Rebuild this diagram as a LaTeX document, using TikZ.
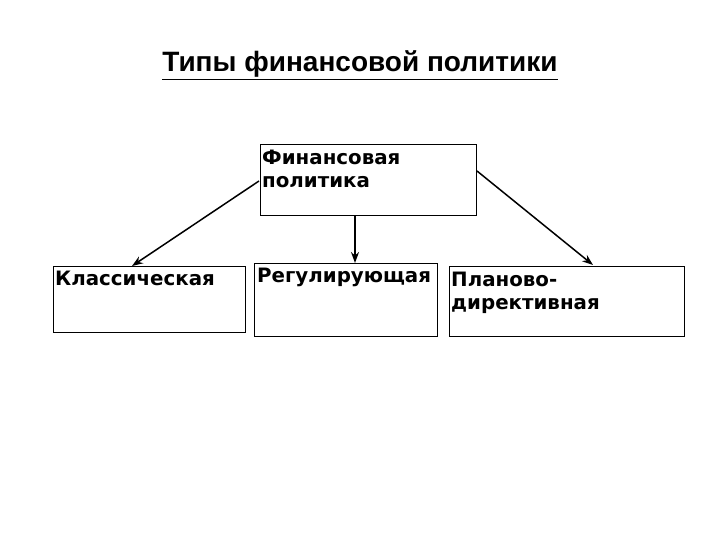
\documentclass[tikz,border=0pt]{standalone}
\usepackage{fontspec}
\setmainfont{Liberation Sans}
\newfontfamily\boxfont{DejaVu Sans}
\usetikzlibrary{arrows.meta}
\begin{document}
\begin{tikzpicture}[x=1pt,y=-1pt,
  box/.style={draw=black,line width=1pt,inner sep=0pt,anchor=north west},
  boxtext/.style={inner sep=0pt,anchor=base west,align=left,
    font=\boxfont\bfseries\fontsize{19.8}{23}\selectfont},
  conn/.style={line width=1.5pt,-{Stealth[length=11pt,width=8pt]}}]
\useasboundingbox (0,0) rectangle (720,540);
\fill[white] (0,0) rectangle (720,540);
\node[inner sep=0pt,anchor=base,font=\bfseries\fontsize{28}{32}\selectfont] (title) at (360,72)
  {\setlength{\fboxrule}{0pt}\underline{Типы финансовой политики}};
% boxes
\node[box,minimum width=216pt,minimum height=71pt] (main) at (260,144) {};
\node[box,minimum width=192pt,minimum height=66pt] (left) at (53,266) {};
\node[box,minimum width=183pt,minimum height=73pt] (mid) at (254,263) {};
\node[box,minimum width=235pt,minimum height=70pt] (right) at (449,266) {};
% texts
\node[boxtext] (mainA) at (262,165) {Финансовая};
\node[boxtext] (mainB) at (262,188) {политика};
\node[boxtext] (leftT) at (55,285) {Классическая};
\node[boxtext] (midT) at (257,282) {Регулирующая};
\node[boxtext] (rightA) at (451,286) {Планово-};
\node[boxtext] (rightB) at (451,309) {директивная};
% connectors
\coordinate (lstart) at (259,181);
\coordinate (lend) at (132,266);
\coordinate (rstart) at (477,171);
\coordinate (rend) at (593,265);
\coordinate (mstart) at (355,216);
\coordinate (mend) at (355,263);
\draw[conn] (lstart) -- (lend);
\draw[conn] (rstart) -- (rend);
\draw[conn] (mstart) -- (mend);
\end{tikzpicture}
\end{document}
